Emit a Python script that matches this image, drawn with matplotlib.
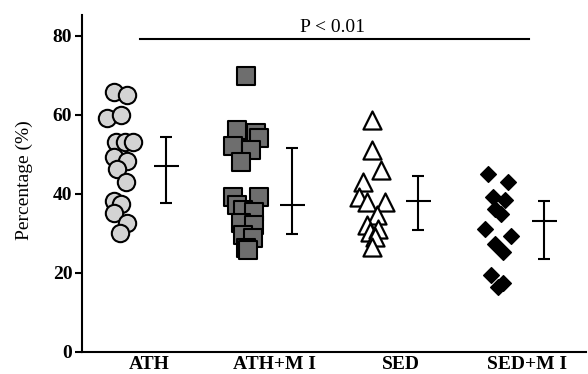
import numpy as np
import matplotlib
matplotlib.use("Agg")
import matplotlib.pyplot as plt

plt.rcParams['font.family'] = ['Liberation Serif', 'DejaVu Serif']

groups = ["ATH", "ATH+M I", "SED", "SED+M I"]

# percentage values
ath = [65.8, 65.0, 59.1, 59.9, 53.2, 53.2, 53.2, 49.2, 48.4, 46.2, 43.0,
       38.2, 37.3, 35.2, 32.5, 30.1]
ath_mi = [69.9, 56.1, 55.4, 54.2, 52.1, 51.2, 48.1, 39.1, 39.2, 37.1, 35.9,
          35.4, 32.5, 32.1, 29.5, 28.7, 26.2, 25.7]
sed = [58.8, 51.1, 46.0, 43.0, 39.1, 38.0, 38.0, 34.6, 32.1, 30.4, 31.0,
       29.1, 26.6]
sed_mi = [45.0, 43.0, 39.2, 38.4, 36.1, 35.0, 31.0, 29.3, 27.4, 25.3, 19.4,
          17.3, 16.5]

# horizontal scatter of the points (pixels)
ath_dx = [-6, 7, -13, 1, -4, 5, 13, -6, 7, -3, 6, -6, 1, -6, 7, 0]
ath_mi_dx = [0, -9, 10, 13, -13, 5, -5, -13, 13, -9, -3, 8, -5, 8, -3, 7, 0, 2]
sed_dx = [0, 0, 9, -9, -13, -5, 13, 5, -5, -2, 6, 3, 0]
sed_mi_dx = [-10, 10, -5, 7, -3, 3, -13, 13, -3, 5, -7, 5, 0]

# mean and error bar ends
means = [47.1, 37.1, 38.2, 33.2]
err_low = [37.7, 29.8, 30.8, 23.6]
err_high = [54.4, 51.5, 44.5, 38.2]

fig = plt.figure(figsize=(5.88, 3.74), dpi=100)
ax = fig.add_axes([0.1395, 0.0596, 0.857, 0.9004])

px = 126.0  # pixels per x unit
pos = np.arange(4)

styles = [
    dict(marker='o', s=12.5**2, facecolor='#d3d3d3', edgecolor='black', linewidths=1.5),
    dict(marker='s', s=13**2, facecolor='#6e6e6e', edgecolor='black', linewidths=1.5),
    dict(marker='^', s=13**2, facecolor='white', edgecolor='black', linewidths=1.6),
    dict(marker='D', s=8**2, facecolor='black', edgecolor='black', linewidths=1.0),
]
series = [(ath, ath_dx), (ath_mi, ath_mi_dx), (sed, sed_dx), (sed_mi, sed_mi_dx)]

for i, (vals, dx) in enumerate(series):
    xs = pos[i] - 0.2 + np.array(dx) / px
    ax.scatter(xs, vals, zorder=3, **styles[i])

ex = pos + 0.17
lo = np.array(means) - np.array(err_low)
hi = np.array(err_high) - np.array(means)
ax.errorbar(ex, means, yerr=[lo, hi], fmt='none', ecolor='black',
            elinewidth=1.5, capsize=4.5, capthick=1.5)
ax.hlines(means, ex - 0.1, ex + 0.1, color='black', lw=1.5)

# significance line
ax.plot([-0.04, 3.05], [79.2, 79.2], color='black', lw=1.5)
ax.text(1.49, 79.9, "P < 0.01", ha='center', va='bottom', fontsize=14)

ax.set_xlim(-0.5, 3.5)
ax.set_ylim(0, 85.3)
ax.set_yticks([0, 20, 40, 60, 80])
ax.set_xticks(pos + 0.03)
ax.set_xticklabels(groups, fontsize=14, fontweight='bold')
ax.tick_params(axis='x', length=0, pad=3)
ax.tick_params(axis='y', length=5, width=1.5, pad=2, labelsize=14)
for lab in ax.get_yticklabels():
    lab.set_fontweight('bold')

ax.spines['top'].set_visible(False)
ax.spines['right'].set_visible(False)
ax.spines['left'].set_linewidth(1.5)
ax.spines['bottom'].set_linewidth(1.5)

ax.set_ylabel("Percentage (%)", fontsize=14)
ax.yaxis.set_label_coords(-0.097, 0.51)

fig.savefig("out.png", dpi=100)
